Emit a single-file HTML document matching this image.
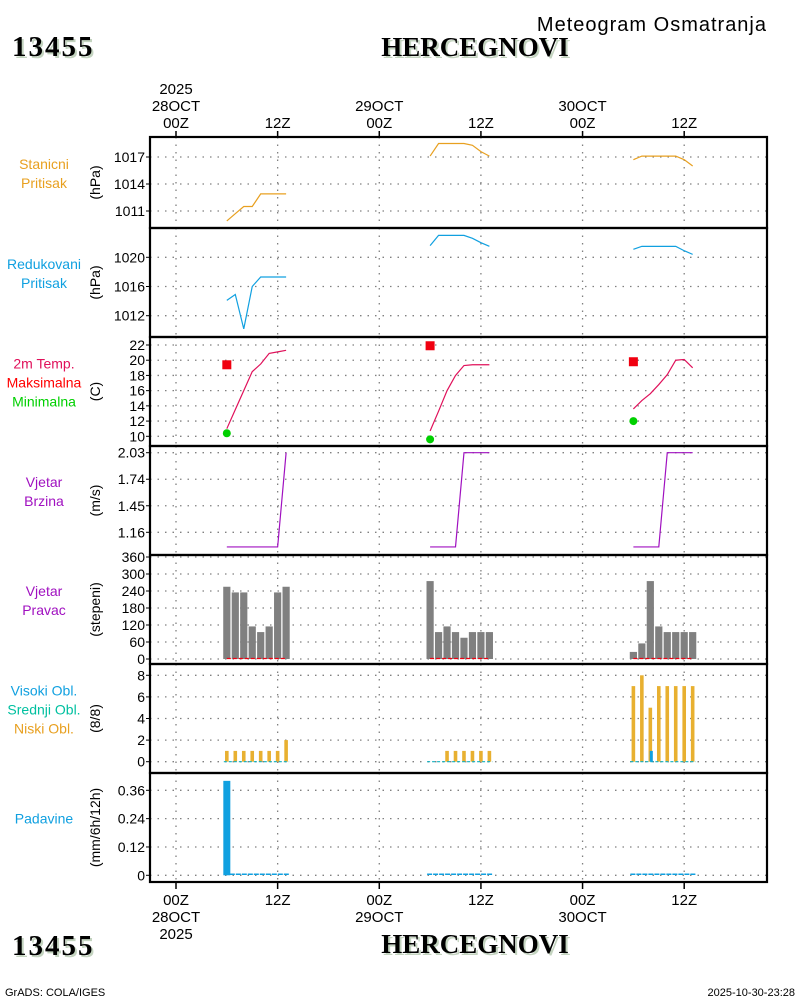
<!DOCTYPE html>
<html><head><meta charset="utf-8">
<style>
html,body{margin:0;padding:0;background:#fff;}
svg{display:block;font-family:"Liberation Sans Narrow","Liberation Sans",sans-serif;}
.ttl{font-family:"Liberation Serif",serif;font-weight:bold;}
</style></head>
<body>
<svg id="chart" width="800" height="1000" viewBox="0 0 800 1000" xmlns="http://www.w3.org/2000/svg">
<rect width="800" height="1000" fill="#fff"/>
<g id="titles">
<text x="767" y="31" style="font-size:20px;letter-spacing:1px" text-anchor="end">Meteogram Osmatranja</text>
<text x="14" y="58" class="ttl" font-size="29" letter-spacing="2" fill="#c4d4c0">13455</text>
<text x="12" y="56" class="ttl" font-size="29" letter-spacing="2">13455</text>
<text x="477" y="58" class="ttl" font-size="27" fill="#c4d4c0" text-anchor="middle">HERCEGNOVI</text>
<text x="475" y="56" class="ttl" font-size="27" text-anchor="middle">HERCEGNOVI</text>
<text x="14" y="957" class="ttl" font-size="29" letter-spacing="2" fill="#c4d4c0">13455</text>
<text x="12" y="955" class="ttl" font-size="29" letter-spacing="2">13455</text>
<text x="477" y="955" class="ttl" font-size="27" fill="#c4d4c0" text-anchor="middle">HERCEGNOVI</text>
<text x="475" y="953" class="ttl" font-size="27" text-anchor="middle">HERCEGNOVI</text>
<text x="5" y="996" font-size="11">GrADS: COLA/IGES</text>
<text x="795" y="996" font-size="11" text-anchor="end">2025-10-30-23:28</text>
</g>
</svg>
<script>
// ---- data ----
const hours1=[6,7,8,9,10,11,12,13];
const hours2=[30,31,32,33,34,35,36,37];
const hours3=[54,55,56,57,58,59,60,61];
const stnPress1=[1009.9,1010.7,1011.5,1011.5,1012.9,1012.9,1012.9,1012.9];
const stnPress2=[1017.1,1018.5,1018.5,1018.5,1018.5,1018.3,1017.6,1017.1];
const stnPress3=[1016.7,1017.1,1017.1,1017.1,1017.1,1017.1,1016.7,1016.0];
const redPress1=[1014.1,1014.9,1010.2,1016.0,1017.3,1017.3,1017.3,1017.3];
const redPress2=[1021.6,1023.0,1023.0,1023.0,1023.0,1022.6,1022.0,1021.5];
const redPress3=[1021.1,1021.5,1021.5,1021.5,1021.5,1021.5,1020.9,1020.4];
const temp1=[11.0,13.5,16.0,18.5,19.5,20.9,21.1,21.3];
const temp2=[10.7,13.3,16.0,18.0,19.3,19.4,19.4,19.4];
const temp3=[13.6,14.7,15.6,16.8,18.1,20.0,20.1,19.0];
const tmaxHours=[6,30,54];
const tmaxVals=[19.4,21.9,19.8];
const tminVals=[10.4,9.6,12.0];
const wspd1=[1.0,1.0,1.0,1.0,1.0,1.0,1.0,2.03];
const wspd2=[1.0,1.0,1.0,1.0,2.03,2.03,2.03,2.03];
const wspd3=[1.0,1.0,1.0,1.0,2.03,2.03,2.03,2.03];
const wdir1=[255,235,235,115,95,115,235,255];
const wdir2=[275,95,115,95,75,95,95,95];
const wdir3=[25,55,275,115,95,95,95,95];
const lowCl1=[1,1,1,1,1,1,1,2];
const lowCl2=[0,0,1,1,1,1,1,1];
const lowCl3=[7,8,5,7,7,7,7,7];
const highCl3=[0,0,1,0,0,0,0,0];
const precip1=[0.40,0,0,0,0,0,0,0];
const precip2=[0,0,0,0,0,0,0,0];
const precip3=[0,0,0,0,0,0,0,0];
const pressTicks=[1011,1014,1017];
const redTicks=[1012,1016,1020];
const tempTicks=[10,12,14,16,18,20,22];
const wspdTicks=[1.16,1.45,1.74,2.03];
const wdirTicks=[0,60,120,180,240,300,360];
const cloudTicks=[0,2,4,6,8];
const precipTicks=[0,0.12,0.24,0.36];
const timeTicks=[0,12,24,36,48,60];
const timeTopLabels=[["2025","28OCT","00Z"],["12Z"],["29OCT","00Z"],["12Z"],["30OCT","00Z"],["12Z"]];
const timeBotLabels=[["00Z","28OCT","2025"],["12Z"],["00Z","29OCT"],["12Z"],["00Z","30OCT"],["12Z"]];

// ---- layout ----
const svg=document.getElementById('chart');
const NS='http://www.w3.org/2000/svg';
const L=150,R=767;
const X=h=>176+h*8.47;
function mk(tag,attrs,parent){const e=document.createElementNS(NS,tag);for(const k in attrs)e.setAttribute(k,attrs[k]);(parent||svg).appendChild(e);return e;}
function lin(v0,y0,v1,y1){return v=>y0+(v-v0)*(y1-y0)/(v1-v0);}

const panels=[
 {top:137,bot:228,y:lin(1011,211,1017,157),ticks:pressTicks,fmt:v=>v,unit:"(hPa)",labels:[["Stanicni","#e8a020"],["Pritisak","#e8a020"]],name:"station-pressure"},
 {top:228,bot:337,y:lin(1012,315.7,1020,257.3),ticks:redTicks,fmt:v=>v,unit:"(hPa)",labels:[["Redukovani","#10a0e0"],["Pritisak","#10a0e0"]],name:"reduced-pressure"},
 {top:337,bot:446,y:lin(10,436.3,22,345),ticks:tempTicks,fmt:v=>v,unit:"(C)",labels:[["2m Temp.","#e0105a"],["Maksimalna","#ff0000"],["Minimalna","#00d000"]],name:"temperature"},
 {top:446,bot:555,y:lin(1.16,532.3,2.03,452.7),ticks:wspdTicks,fmt:v=>v.toFixed(2),unit:"(m/s)",labels:[["Vjetar","#a010c0"],["Brzina","#a010c0"]],name:"wind-speed"},
 {top:555,bot:664,y:lin(0,659,360,557),ticks:wdirTicks,fmt:v=>v,unit:"(stepeni)",labels:[["Vjetar","#a010c0"],["Pravac","#a010c0"]],name:"wind-direction"},
 {top:664,bot:773,y:lin(0,761.7,8,675.3),ticks:cloudTicks,fmt:v=>v,unit:"(8/8)",labels:[["Visoki Obl.","#10a0e0"],["Srednji Obl.","#00c0a0"],["Niski Obl.","#e8a020"]],name:"cloud-cover"},
 {top:773,bot:882,y:lin(0,875.3,0.36,790.3),ticks:precipTicks,fmt:v=>v===0?"0":v.toFixed(2),unit:"(mm/6h/12h)",labels:[["Padavine","#10a0e0"]],name:"precipitation"}
];

panels.forEach(p=>{
 const g=mk('g',{});
 
 
 p.g=g;
 p.ticks.forEach(v=>{
  const yy=p.y(v);
  const gl=mk('line',{x1:L,x2:R,y1:yy,y2:yy,stroke:'#808080','stroke-width':1.3,'stroke-dasharray':'1.5 6'},g);
  
  
  mk('line',{x1:L-4,x2:L,y1:yy,y2:yy,stroke:'#000'},g);
  const t=mk('text',{x:L-5,y:yy+5,'text-anchor':'end','font-size':14},g);
  t.textContent=p.fmt(v);
  
  
 });
 timeTicks.forEach(h=>{
  const gl=mk('line',{x1:X(h),x2:X(h),y1:p.top,y2:p.bot,stroke:'#808080','stroke-width':1.3,'stroke-dasharray':'1.5 6'},g);
  
  
 });
 const mid=(p.top+p.bot)/2;
 const u=mk('text',{x:0,y:0,'text-anchor':'middle','font-size':14,transform:`translate(100,${mid}) rotate(-90)`},g);
 u.textContent=p.unit;
 
 
 const n=p.labels.length;
 p.labels.forEach((lb,i)=>{
  const t=mk('text',{x:44,y:mid-(n-1)*9.5+i*19-9+5,'text-anchor':'middle','font-size':14,fill:lb[1]},g);
  t.textContent=lb[0];
  
  
 });
});

function poly(p,hs,vals,color,name,w){
 const pts=hs.map((h,i)=>X(h)+','+p.y(vals[i])).join(' ');
 const e=mk('polyline',{points:pts,fill:'none',stroke:color,'stroke-width':w||1.2},p.g);
 
 
}
const H=[hours1,hours2,hours3];
[stnPress1,stnPress2,stnPress3].forEach((d,i)=>poly(panels[0],H[i],d,'#e8a020','station-pressure-line'));
[redPress1,redPress2,redPress3].forEach((d,i)=>poly(panels[1],H[i],d,'#10a0e0','reduced-pressure-line'));
[temp1,temp2,temp3].forEach((d,i)=>poly(panels[2],H[i],d,'#e0105a','temperature-line'));
tmaxHours.forEach((h,i)=>{
 const e=mk('rect',{x:X(h)-4.5,y:panels[2].y(tmaxVals[i])-4.5,width:9,height:9,fill:'#f00010'},panels[2].g);
 
 
 const c=mk('circle',{cx:X(h),cy:panels[2].y(tminVals[i]),r:4,fill:'#00d000'},panels[2].g);
 
 
});
[wspd1,wspd2,wspd3].forEach((d,i)=>poly(panels[3],H[i],d,'#a010c0','wind-speed-line'));
[wdir1,wdir2,wdir3].forEach((d,i)=>{
 const p=panels[4];
 H[i].forEach((h,j)=>{
  const e=mk('rect',{x:X(h)-3.6,y:p.y(d[j]),width:7.2,height:p.y(0)-p.y(d[j]),fill:'#808080'},p.g);
  
  
 });
 const b=mk('line',{x1:X(H[i][0]),x2:X(H[i][7]),y1:p.y(0)-0.5,y2:p.y(0)-0.5,stroke:'#f00010','stroke-width':1.2,'stroke-dasharray':'4 2'},p.g);
 
 
});
[lowCl1,lowCl2,lowCl3].forEach((d,i)=>{
 const p=panels[5];
 H[i].forEach((h,j)=>{
  if(d[j]>0){
   const e=mk('rect',{x:X(h)-1.8,y:p.y(d[j]),width:3.6,height:p.y(0)-p.y(d[j]),fill:'#e8b030'},p.g);
   
   
  }
 });
 const b=mk('line',{x1:X(H[i][0])-3,x2:X(H[i][7])+3,y1:p.y(0),y2:p.y(0),stroke:'#10b0c0','stroke-width':1.2,'stroke-dasharray':'3 2'},p.g);
 
 
});
hours3.forEach((h,j)=>{
 const p=panels[5];
 if(highCl3[j]>0){
  const e=mk('rect',{x:X(h)-0.5,y:p.y(highCl3[j]),width:3,height:p.y(0)-p.y(highCl3[j]),fill:'#10a0e0'},p.g);
  
  
 }
});
[precip1,precip2,precip3].forEach((d,i)=>{
 const p=panels[6];
 H[i].forEach((h,j)=>{
  if(d[j]>0){
   const e=mk('rect',{x:X(h)-3.5,y:p.y(d[j]),width:7,height:p.y(0)-p.y(d[j]),fill:'#10a0e0'},p.g);
   
   
  }
 });
 const b=mk('line',{x1:X(H[i][0])-3,x2:X(H[i][7])+3,y1:p.y(0)-1,y2:p.y(0)-1,stroke:'#10a0e0','stroke-width':1.5,'stroke-dasharray':'5 1'},p.g);
 
 
});
panels.forEach(p=>{
 const r=mk('rect',{x:L,y:p.top,width:R-L,height:p.bot-p.top,fill:'none',stroke:'#000','stroke-width':2.2});
 
 
});
timeTicks.forEach((h,i)=>{
 mk('line',{x1:X(h),x2:X(h),y1:131,y2:137,stroke:'#000','stroke-width':1.5});
 mk('line',{x1:X(h),x2:X(h),y1:882,y2:889,stroke:'#000','stroke-width':1.5});
 const tl=timeTopLabels[i];
 tl.forEach((s,k)=>{
  const t=mk('text',{x:X(h),y:128-(tl.length-1-k)*17,'text-anchor':'middle','font-size':15});
  t.textContent=s;
  
  
 });
 timeBotLabels[i].forEach((s,k)=>{
  const t=mk('text',{x:X(h),y:905+k*17,'text-anchor':'middle','font-size':15});
  t.textContent=s;
  
  
 });
});
</script>
</body></html>
